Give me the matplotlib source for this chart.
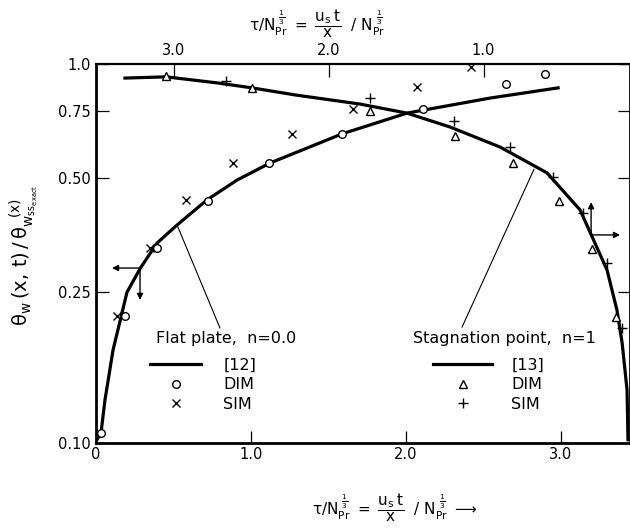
import matplotlib
matplotlib.use("Agg")
import matplotlib.pyplot as plt
from matplotlib.ticker import NullLocator

# ---- data ----
# Flat plate, n = 0.0 : reference curve [12]
flat_curve_x = [0.006, 0.032, 0.058, 0.110, 0.200, 0.290, 0.394, 0.523, 0.716, 0.910, 1.123, 1.361, 1.587, 2.006, 2.542, 2.981]
flat_curve_y = [0.102, 0.106, 0.130, 0.176, 0.250, 0.291, 0.337, 0.376, 0.438, 0.494, 0.548, 0.600, 0.654, 0.742, 0.813, 0.865]
flat_dim_x = [0.032, 0.187, 0.394, 0.723, 1.116, 1.587, 2.110, 2.645, 2.897]
flat_dim_y = [0.106, 0.216, 0.327, 0.435, 0.548, 0.654, 0.760, 0.886, 0.941]
flat_sim_x = [0.135, 0.348, 0.581, 0.884, 1.265, 1.658, 2.071, 2.419]
flat_sim_y = [0.216, 0.327, 0.437, 0.548, 0.654, 0.760, 0.870, 0.982]

# Stagnation point, n = 1 : reference curve [13]
stag_curve_x = [0.187, 0.452, 0.787, 1.006, 1.290, 1.703, 2.006, 2.284, 2.606, 2.910, 3.123, 3.297, 3.361, 3.394, 3.426, 3.432]
stag_curve_y = [0.918, 0.925, 0.891, 0.865, 0.828, 0.784, 0.742, 0.682, 0.604, 0.516, 0.412, 0.286, 0.224, 0.184, 0.138, 0.102]
stag_dim_x = [0.452, 1.006, 1.768, 2.316, 2.690, 2.987, 3.200, 3.355]
stag_dim_y = [0.929, 0.865, 0.751, 0.646, 0.548, 0.435, 0.325, 0.215]
stag_sim_x = [0.839, 1.768, 2.310, 2.671, 2.948, 3.142, 3.297, 3.394]
stag_sim_y = [0.902, 0.813, 0.707, 0.604, 0.503, 0.404, 0.2985, 0.201]

bottom_ticks = [0, 1, 2, 3]
bottom_labels = ["0", "1.0", "2.0", "3.0"]
top_ticks = [3, 2, 1]
top_labels = ["3.0", "2.0", "1.0"]
top_offset = 3.5          # top value = top_offset - bottom value
y_ticks = [0.10, 0.25, 0.50, 0.75, 1.0]
y_labels = ["0.10", "0.25", "0.50", "0.75", "1.0"]
x_max = 3.445

plt.rcParams["font.family"] = ["DejaVu Sans"]
plt.rcParams["mathtext.fontset"] = "dejavusans"
plt.rcParams["mathtext.default"] = "regular"

W, H = 630, 529
fig = plt.figure(figsize=(W / 100, H / 100), dpi=100)
ax = fig.add_axes([96 / W, 1 - 443 / H, 534 / W, 379 / H])

ax.set_yscale("log")
ax.set_xlim(0, x_max)
ax.set_ylim(0.1, 1.0)

lw_curve = 2.3
l12, = ax.plot(flat_curve_x, flat_curve_y, color="black", lw=lw_curve, label="[12]", zorder=2)
l13, = ax.plot(stag_curve_x, stag_curve_y, color="black", lw=lw_curve, label="[13]", zorder=2)
d12, = ax.plot(flat_dim_x, flat_dim_y, ls="none", marker="o", ms=5.5, mfc="white", mec="black", mew=1.0, label="DIM", zorder=3)
s12, = ax.plot(flat_sim_x, flat_sim_y, ls="none", marker="x", ms=5.5, mec="black", mew=1.0, label="SIM", zorder=3)
d13, = ax.plot(stag_dim_x, stag_dim_y, ls="none", marker="^", ms=5.5, mfc="white", mec="black", mew=1.0, label="DIM", zorder=3)
s13, = ax.plot(stag_sim_x, stag_sim_y, ls="none", marker="+", ms=6.5, mec="black", mew=1.0, label="SIM", zorder=3)

# axis styling
for side in ["left", "bottom", "right"]:
    ax.spines[side].set_linewidth(2.0)
ax.spines["top"].set_linewidth(1.6)
ax.set_xticks(bottom_ticks, bottom_labels)
ax.set_yticks(y_ticks, y_labels)
ax.yaxis.set_minor_locator(NullLocator())
ax.tick_params(axis="x", direction="in", length=9, width=0.9, labelsize=10.5, pad=3)
ax.tick_params(axis="y", direction="in", length=9, width=0.9, labelsize=10.5, pad=4, right=True)

ax2 = ax.twiny()
ax2.set_xlim(top_offset, top_offset - x_max)
ax2.set_xticks(top_ticks, top_labels)
ax2.tick_params(axis="x", direction="in", length=9, width=0.9, labelsize=10.5, pad=4)
for sp in ax2.spines.values():
    sp.set_visible(False)

# direction arrows
arrow_kw = dict(arrowstyle="-|>", color="black", lw=1.0, mutation_scale=9, shrinkA=0, shrinkB=0)
fp_origin = (0.284, 0.2895)
ax.annotate("", xy=(0.103, 0.2895), xytext=fp_origin, arrowprops=arrow_kw)
ax.annotate("", xy=(0.284, 0.2385), xytext=fp_origin, arrowprops=arrow_kw)
sp_origin = (3.194, 0.354)
ax.annotate("", xy=(3.194, 0.432), xytext=sp_origin, arrowprops=arrow_kw)
ax.annotate("", xy=(3.381, 0.354), xytext=sp_origin, arrowprops=arrow_kw)

# leader lines to labels
lead_kw = dict(arrowstyle="-", color="black", lw=0.8, shrinkA=0, shrinkB=0)
ax.annotate("", xy=(0.523, 0.376), xytext=(0.800, 0.201), arrowprops=lead_kw)
ax.annotate("", xy=(2.826, 0.528), xytext=(2.361, 0.202), arrowprops=lead_kw)

# group titles
fig.text(156 / W, 1 - 339 / H, "Flat plate,  n=0.0", fontsize=11.5, ha="left", va="center")
fig.text(413 / W, 1 - 339 / H, "Stagnation point,  n=1", fontsize=11.5, ha="left", va="center")

# legends
leg1 = ax.legend(handles=[l12, d12, s12], loc="upper left",
                 bbox_to_anchor=((150 - 96) / 534, (443 - 358) / 379),
                 frameon=False, fontsize=11.5, borderpad=0, borderaxespad=0,
                 handlelength=3.2, handletextpad=1.4, labelspacing=0.28)
ax.add_artist(leg1)
leg2 = ax.legend(handles=[l13, d13, s13], loc="upper left",
                 bbox_to_anchor=((433 - 96) / 534, (443 - 358) / 379),
                 frameon=False, fontsize=11.5, borderpad=0, borderaxespad=0,
                 handlelength=3.7, handletextpad=1.2, labelspacing=0.28)

# axis titles
fig.text(24 / W, 1 - 255 / H, r"$\theta_w\,(x,\,t)\,/\,\theta_{w_{ss_{exact}}}^{\ \ (x)}$",
         rotation=90, ha="center", va="center", fontsize=14)
fig.text(317 / W, 1 - 24 / H,
         r"$\tau/N_{Pr}^{\ \frac{1}{3}}\ =\ \dfrac{u_s\,t}{x}\ \ /\ N_{Pr}^{\ \frac{1}{3}}$",
         ha="center", va="center", fontsize=11)
fig.text(395 / W, 1 - 508 / H,
         r"$\tau/N_{Pr}^{\ \frac{1}{3}}\ =\ \dfrac{u_s\,t}{x}\ \ /\ N_{Pr}^{\ \frac{1}{3}}\ \longrightarrow$",
         ha="center", va="center", fontsize=11)

fig.savefig("out.png", dpi=100)
